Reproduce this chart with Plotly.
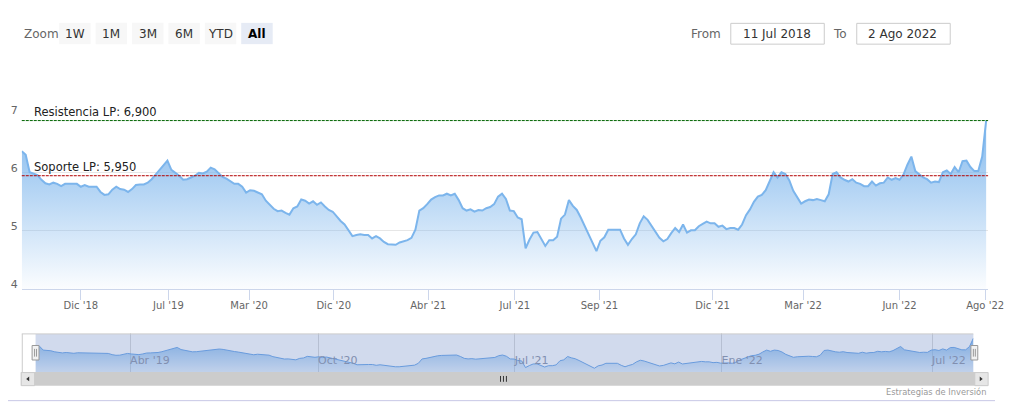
import plotly.graph_objects as go

# ---------------- data ----------------
values = [
    6.37, 6.31, 6.01, 5.99, 5.96, 5.88, 5.82, 5.80, 5.83, 5.81,
    5.77, 5.81, 5.81, 5.81, 5.81, 5.76, 5.79, 5.76, 5.76, 5.76,
    5.67, 5.62, 5.63, 5.71, 5.76, 5.72, 5.71, 5.67, 5.72, 5.79,
    5.80, 5.80, 5.83, 5.89, 5.97, 6.05, 6.13, 6.21, 6.05, 6.00,
    5.95, 5.88, 5.89, 5.92, 5.95, 6.00, 5.99, 6.02, 6.09, 6.06,
    5.99, 5.93, 5.90, 5.86, 5.81, 5.81, 5.76, 5.66, 5.70, 5.69,
    5.66, 5.63, 5.52, 5.45, 5.38, 5.34, 5.35, 5.31, 5.28, 5.39,
    5.42, 5.54, 5.52, 5.47, 5.51, 5.45, 5.49, 5.42, 5.36, 5.33,
    5.24, 5.17, 5.11, 5.02, 4.91, 4.93, 4.94, 4.93, 4.93, 4.87,
    4.91, 4.87, 4.81, 4.77, 4.76, 4.76, 4.80, 4.82, 4.84, 4.88,
    5.02, 5.35, 5.39, 5.46, 5.54, 5.58, 5.61, 5.61, 5.64, 5.61,
    5.64, 5.53, 5.39, 5.35, 5.37, 5.33, 5.36, 5.35, 5.39, 5.41,
    5.46, 5.59, 5.64, 5.55, 5.35, 5.34, 5.23, 5.20, 4.70, 4.85,
    4.97, 4.98, 4.87, 4.74, 4.84, 4.84, 4.90, 5.21, 5.28, 5.53,
    5.43, 5.36, 5.23, 5.08, 4.93, 4.78, 4.65, 4.83, 4.89, 5.02,
    5.02, 5.02, 5.02, 4.87, 4.76, 4.86, 4.94, 5.13, 5.25, 5.19,
    5.09, 4.99, 4.88, 4.82, 4.86, 4.96, 5.05, 4.98, 5.11, 4.97,
    5.01, 5.01, 5.08, 5.12, 5.16, 5.13, 5.13, 5.07, 5.09, 5.03,
    5.05, 5.05, 5.02, 5.11, 5.27, 5.37, 5.50, 5.59, 5.62, 5.70,
    5.87, 6.01, 5.92, 6.01, 5.98, 5.87, 5.69, 5.58, 5.47, 5.51,
    5.54, 5.53, 5.55, 5.53, 5.51, 5.63, 5.98, 6.01, 5.92, 5.88,
    5.85, 5.89, 5.83, 5.81, 5.77, 5.77, 5.85, 5.78, 5.82, 5.83,
    5.92, 5.88, 5.91, 5.88, 5.97, 6.14, 6.28, 6.03, 5.98, 5.92,
    5.89, 5.83, 5.85, 5.84, 6.01, 6.04, 5.98, 6.10, 6.01, 6.20,
    6.21, 6.10, 6.03, 6.03, 6.28, 6.90,
]

# ordinal positions (point index) of the month labels
main_tick_labels = ["Dic '18", "Jul '19", "Mar '20", "Dic '20", "Abr '21", "Jul '21",
                    "Sep '21", "Dic '21", "Mar '22", "Jun '22", "Ago '22"]
main_tick_pos = [15, 37.25, 57.75, 79.25, 103.25, 125.25, 146.75, 175.5, 198.5, 223, 244.75]

nav_tick_labels = ["Abr '19", "Oct '20", "Jul '21", "Ene '22", "Jul '22"]
nav_tick_pos = [24.7, 73.8, 125.2, 179.2, 234.2]

y_ticks = [4, 5, 6, 7]

resistance = 6.9
support = 5.95
resistance_label = "Resistencia LP: 6,900"
support_label = "Soporte LP: 5,950"

zoom_buttons = ["1W", "1M", "3M", "6M", "YTD", "All"]
selected_button = "All"
date_from = "11 Jul 2018"
date_to = "2 Ago 2022"
credit = "Estrategias de Inversión"

# ---------------- layout helpers ----------------
# The page keeps the browser's default 8px body margin, so the figure is made
# 16px smaller than the 1019x415 window and every position below is given in
# window pixels, converted to figure (paper) fractions.
WIN_W, WIN_H = 1019, 415
OFF = 8
W, H = WIN_W - 2 * OFF, WIN_H - 2 * OFF
FONT = "DejaVu Sans"


def px(x):
    return (x - OFF) / W


def py(y):
    return 1 - (y - OFF) / H


idx = list(range(len(values)))

fig = go.Figure()

# main area series
fig.add_trace(go.Scatter(
    x=idx, y=values, mode="lines",
    line=dict(color="#7cb5ec", width=2),
    fill="tozeroy",
    fillgradient=dict(type="vertical", start=4, stop=max(values),
                      colorscale=[[0, "rgba(124,181,236,0)"], [1, "rgba(124,181,236,0.95)"]]),
    hoverinfo="skip", xaxis="x", yaxis="y", showlegend=False,
))

# navigator series
fig.add_trace(go.Scatter(
    x=idx, y=values, mode="lines",
    line=dict(color="#6aa5e8", width=1),
    fill="tozeroy",
    fillgradient=dict(type="vertical", start=4.36, stop=max(values),
                      colorscale=[[0, "rgba(124,181,236,0.15)"], [1, "rgba(124,181,236,0.9)"]]),
    hoverinfo="skip", xaxis="x2", yaxis="y2", showlegend=False,
))

shapes = []
annotations = []

# support / resistance lines
shapes.append(dict(type="line", xref="x domain", yref="y", x0=0, x1=1, y0=resistance, y1=resistance,
                   line=dict(color="#006400", width=1, dash="3px,1px"), layer="above"))
shapes.append(dict(type="line", xref="x domain", yref="y", x0=0, x1=1, y0=support, y1=support,
                   line=dict(color="#b30000", width=1, dash="3px,1px"), layer="above"))
annotations.append(dict(text=resistance_label, xref="paper", yref="paper", x=px(32), y=py(104.5),
                        xanchor="left", yanchor="middle", showarrow=False,
                        font=dict(family=FONT, size=11.5, color="#222")))
annotations.append(dict(text=support_label, xref="paper", yref="paper", x=px(32), y=py(161.5),
                        xanchor="left", yanchor="middle", showarrow=False,
                        font=dict(family=FONT, size=11.5, color="#222")))

# range selector
annotations.append(dict(text="Zoom", xref="paper", yref="paper", x=px(22), y=py(23),
                        xanchor="left", yanchor="middle", showarrow=False,
                        font=dict(family=FONT, size=12, color="#666")))
for i, lab in enumerate(zoom_buttons):
    bx = 60 + 37 * i
    sel = lab == selected_button
    shapes.append(dict(type="rect", xref="paper", yref="paper", x0=px(bx), x1=px(bx + 32),
                       y0=py(34), y1=py(12), fillcolor="#e6ebf5" if sel else "#f7f7f7",
                       line=dict(width=0), layer="above"))
    annotations.append(dict(text=f"<b>{lab}</b>" if sel else lab, xref="paper", yref="paper",
                            x=px(bx + 16), y=py(23), xanchor="center", yanchor="middle",
                            showarrow=False,
                            font=dict(family=FONT, size=12, color="#000" if sel else "#333")))

# input boxes
for lab, lx, bx0, bx1, val in [("From", 735, 742, 837, date_from), ("To", 863, 870, 965, date_to)]:
    annotations.append(dict(text=lab, xref="paper", yref="paper", x=px(lx), y=py(23),
                            xanchor="right", yanchor="middle", showarrow=False,
                            font=dict(family=FONT, size=12, color="#666")))
    shapes.append(dict(type="rect", xref="paper", yref="paper", x0=px(bx0 + 0.5), x1=px(bx1 + 0.5),
                       y0=py(34), y1=py(12.5), fillcolor="white",
                       line=dict(color="#cccccc", width=1), layer="above"))
    annotations.append(dict(text=val, xref="paper", yref="paper", x=px((bx0 + bx1) / 2), y=py(23),
                            xanchor="center", yanchor="middle", showarrow=False,
                            font=dict(family=FONT, size=12, color="#333")))

# navigator mask + outline
shapes.append(dict(type="rect", xref="paper", yref="paper", x0=px(36), x1=px(989), y0=py(373), y1=py(333.5),
                   fillcolor="rgba(102,133,194,0.3)", line=dict(width=0), layer="above"))
shapes.append(dict(type="line", xref="paper", yref="paper", x0=px(22), x1=px(989), y0=py(333.5), y1=py(333.5),
                   line=dict(color="#cccccc", width=1), layer="above"))
shapes.append(dict(type="line", xref="paper", yref="paper", x0=px(22.5), x1=px(22.5), y0=py(373), y1=py(333.5),
                   line=dict(color="#cccccc", width=1), layer="above"))
# handles
for hx in (32, 986):
    shapes.append(dict(type="rect", xref="paper", yref="paper", x0=px(hx + 0.5), x1=px(hx + 7.5),
                       y0=py(360.5), y1=py(345.5), fillcolor="#f2f2f2",
                       line=dict(color="#999999", width=1), layer="above"))
    for lx in (hx + 3, hx + 5):
        shapes.append(dict(type="line", xref="paper", yref="paper", x0=px(lx), x1=px(lx),
                           y0=py(357), y1=py(349), line=dict(color="#999999", width=1), layer="above"))

# scrollbar
shapes.append(dict(type="rect", xref="paper", yref="paper", x0=px(21), x1=px(1004), y0=py(387), y1=py(373),
                   fillcolor="#cccccc", line=dict(width=0), layer="above"))
for bx in (21, 990):
    shapes.append(dict(type="rect", xref="paper", yref="paper", x0=px(bx + 0.5), x1=px(bx + 14),
                       y0=py(387), y1=py(373.5), fillcolor="#e6e6e6",
                       line=dict(color="#cccccc", width=1), layer="above"))


def tri(points):
    return "M " + " L ".join(f"{px(a)},{py(b)}" for a, b in points) + " Z"


shapes.append(dict(type="path", xref="paper", yref="paper", path=tri([(26.5, 380), (29.5, 377.5), (29.5, 382.5)]),
                   fillcolor="#333333", line=dict(width=0), layer="above"))
shapes.append(dict(type="path", xref="paper", yref="paper", path=tri([(998.5, 380), (995.5, 377.5), (995.5, 382.5)]),
                   fillcolor="#333333", line=dict(width=0), layer="above"))
for rx in (508.5, 511.5, 514.5):
    shapes.append(dict(type="line", xref="paper", yref="paper", x0=px(rx), x1=px(rx), y0=py(383), y1=py(377),
                       line=dict(color="#333333", width=1), layer="above"))

# bottom separator + credit
shapes.append(dict(type="line", xref="paper", yref="paper", x0=0, x1=px(1011), y0=py(402.5), y1=py(402.5),
                   line=dict(color="#c7c7e6", width=1), layer="above"))
annotations.append(dict(text=credit, xref="paper", yref="paper", x=px(1004), y=py(394),
                        xanchor="right", yanchor="middle", showarrow=False,
                        font=dict(family=FONT, size=8.3, color="#999")))

fig.update_layout(
    width=W, height=H,
    margin=dict(l=0, r=0, t=0, b=0),
    paper_bgcolor="white", plot_bgcolor="white",
    font=dict(family=FONT),
    showlegend=False,
    xaxis=dict(domain=[px(22), px(1004)], range=[0, 245.5], anchor="y",
               tickmode="array", tickvals=main_tick_pos, ticktext=main_tick_labels,
               ticks="outside", ticklen=10, tickcolor="#ccd6eb", tickwidth=1,
               showline=True, linecolor="#ccd6eb", linewidth=1,
               showgrid=False, zeroline=False, fixedrange=True,
               ticklabeloverflow="allow", ticklabelstandoff=-3,
               tickfont=dict(family=FONT, size=10, color="#666")),
    yaxis=dict(domain=[py(287), py(107)], range=[4, 7], anchor="x",
               tickmode="array", tickvals=y_ticks,
               showgrid=True, gridcolor="#e6e6e6", gridwidth=1,
               showline=False, zeroline=False, ticks="", fixedrange=True,
               ticklabelshift=-5, ticklabelstandoff=3,
               tickfont=dict(family=FONT, size=11, color="#666")),
    xaxis2=dict(domain=[px(36), px(989)], range=[0, 245], anchor="y2",
                tickmode="array", tickvals=nav_tick_pos, ticktext=nav_tick_labels,
                showgrid=True, gridcolor="#d9d9d9", ticks="", ticklabelposition="inside right",
                showline=False, zeroline=False, fixedrange=True,
                tickfont=dict(family=FONT, size=11, color="#8d94a8")),
    yaxis2=dict(domain=[py(373), py(333)], range=[4.36, 7.26], anchor="x2",
                visible=False, showgrid=False, zeroline=False, fixedrange=True),
    shapes=shapes,
    annotations=annotations,
)

fig.write_html("out.html", config={"displayModeBar": False})
